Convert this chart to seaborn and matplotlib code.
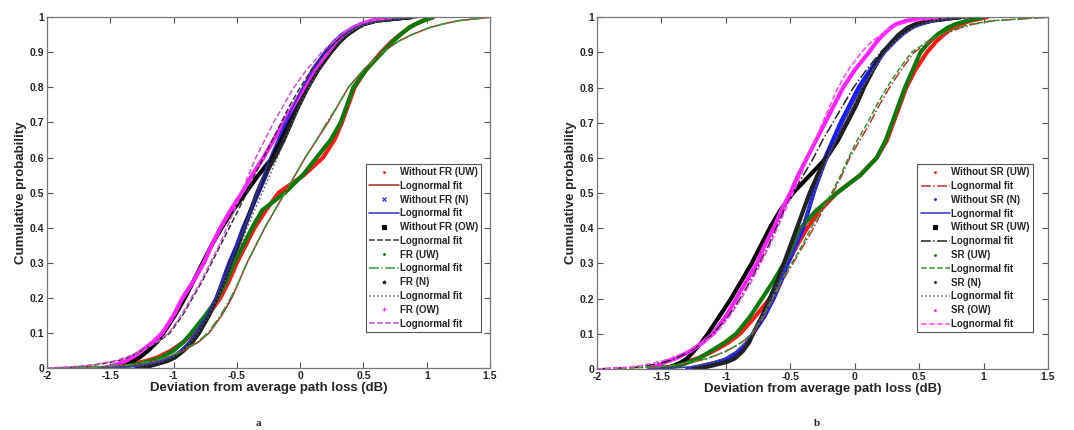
"""
Empirical CDFs of the deviation from average path loss, with lognormal fits.
Panel a: with / without FR; panel b: with / without SR.
"""

import matplotlib
matplotlib.use("Agg")
import matplotlib.pyplot as plt
import pandas as pd
import seaborn as sns
from matplotlib.lines import Line2D

# ─────────────────────────────────────────────────────────────────────────────
#  DATA  (x values at fixed cumulative-probability levels)
# ─────────────────────────────────────────────────────────────────────────────

PROB = [0, 0.005, 0.01, 0.02, 0.03, 0.05, 0.075, 0.1, 0.15, 0.2,
        0.25, 0.3, 0.35, 0.4, 0.45, 0.5, 0.55, 0.6, 0.65, 0.7,
        0.75, 0.8, 0.85, 0.9, 0.93, 0.95, 0.97, 0.98, 0.99, 1.0]

# panel a
A_WO_UW     = [-1.55, -1.42, -1.35, -1.22, -1.13, -1.02, -0.92, -0.84, -0.73, -0.63,
               -0.56, -0.50, -0.43, -0.36, -0.27, -0.17, 0.03, 0.18, 0.27, 0.33,
               0.38, 0.43, 0.52, 0.64, 0.72, 0.79, 0.86, 0.91, 0.97, 1.05]
A_WO_UW_FIT = [-1.90, -1.50, -1.30, -1.15, -1.05, -0.92, -0.80, -0.72, -0.62, -0.54,
               -0.48, -0.42, -0.35, -0.28, -0.20, -0.12, -0.04, 0.04, 0.13, 0.22,
               0.30, 0.38, 0.50, 0.65, 0.77, 0.88, 1.02, 1.12, 1.25, 1.50]
A_WO_N      = [-1.30, -1.20, -1.15, -1.07, -1.01, -0.93, -0.86, -0.80, -0.73, -0.66,
               -0.61, -0.56, -0.50, -0.45, -0.39, -0.33, -0.27, -0.22, -0.16, -0.10,
               -0.04, 0.03, 0.10, 0.20, 0.27, 0.33, 0.42, 0.48, 0.58, 0.88]
A_WO_N_FIT  = [-1.60, -1.30, -1.22, -1.10, -1.03, -0.95, -0.88, -0.83, -0.74, -0.67,
               -0.61, -0.55, -0.50, -0.44, -0.39, -0.34, -0.29, -0.24, -0.18, -0.12,
               -0.05, 0.02, 0.10, 0.20, 0.28, 0.34, 0.43, 0.50, 0.60, 0.90]
A_WO_OW     = [-1.45, -1.41, -1.38, -1.32, -1.27, -1.20, -1.13, -1.08, -0.99, -0.91,
               -0.84, -0.77, -0.70, -0.62, -0.53, -0.43, -0.33, -0.22, -0.15, -0.08,
               -0.01, 0.06, 0.14, 0.24, 0.31, 0.37, 0.45, 0.50, 0.60, 0.87]
A_WO_OW_FIT = [-1.95, -1.70, -1.60, -1.45, -1.36, -1.25, -1.12, -1.03, -0.93, -0.85,
               -0.77, -0.70, -0.63, -0.56, -0.49, -0.42, -0.36, -0.29, -0.22, -0.15,
               -0.08, 0.00, 0.09, 0.20, 0.28, 0.35, 0.45, 0.52, 0.63, 0.95]
A_FR_UW     = [-1.50, -1.38, -1.30, -1.18, -1.10, -1.00, -0.92, -0.86, -0.75, -0.65,
               -0.58, -0.52, -0.45, -0.38, -0.30, -0.12, 0.02, 0.13, 0.24, 0.32,
               0.37, 0.42, 0.52, 0.65, 0.73, 0.79, 0.86, 0.91, 0.97, 1.05]
A_FR_UW_FIT = [-1.90, -1.52, -1.32, -1.16, -1.06, -0.93, -0.81, -0.73, -0.63, -0.55,
               -0.48, -0.42, -0.35, -0.28, -0.20, -0.12, -0.04, 0.04, 0.13, 0.21,
               0.30, 0.38, 0.50, 0.65, 0.77, 0.88, 1.02, 1.12, 1.25, 1.50]
A_FR_N      = [-1.28, -1.20, -1.15, -1.05, -0.99, -0.92, -0.85, -0.80, -0.72, -0.66,
               -0.60, -0.55, -0.49, -0.44, -0.39, -0.34, -0.28, -0.20, -0.13, -0.07,
               -0.01, 0.06, 0.14, 0.24, 0.31, 0.37, 0.45, 0.50, 0.60, 0.85]
A_FR_N_FIT  = [-1.60, -1.30, -1.20, -1.08, -1.01, -0.93, -0.86, -0.81, -0.72, -0.65,
               -0.59, -0.53, -0.47, -0.42, -0.36, -0.30, -0.24, -0.18, -0.12, -0.06,
               0.00, 0.07, 0.14, 0.23, 0.31, 0.36, 0.45, 0.52, 0.62, 0.92]
A_FR_OW     = [-1.55, -1.50, -1.45, -1.38, -1.33, -1.25, -1.16, -1.09, -1.00, -0.93,
               -0.84, -0.76, -0.70, -0.63, -0.55, -0.46, -0.38, -0.29, -0.21, -0.13,
               -0.05, 0.03, 0.11, 0.22, 0.28, 0.34, 0.42, 0.48, 0.56, 0.70]
A_FR_OW_FIT = [-2.00, -1.75, -1.63, -1.47, -1.38, -1.24, -1.13, -1.04, -0.94, -0.86,
               -0.78, -0.71, -0.64, -0.58, -0.52, -0.46, -0.41, -0.35, -0.28, -0.21,
               -0.13, -0.05, 0.05, 0.17, 0.26, 0.32, 0.41, 0.47, 0.56, 0.80]

# panel b
B_WO_UW     = [-1.50, -1.43, -1.38, -1.31, -1.22, -1.10, -0.98, -0.89, -0.77, -0.66,
               -0.59, -0.52, -0.45, -0.37, -0.27, -0.14, 0.04, 0.17, 0.25, 0.30,
               0.35, 0.40, 0.47, 0.56, 0.63, 0.69, 0.76, 0.82, 0.90, 1.03]
B_WO_UW_FIT = [-2.00, -1.60, -1.40, -1.25, -1.14, -1.00, -0.88, -0.79, -0.70, -0.63,
               -0.56, -0.48, -0.40, -0.32, -0.25, -0.17, -0.10, -0.04, 0.04, 0.12,
               0.19, 0.27, 0.36, 0.46, 0.58, 0.69, 0.82, 0.92, 1.08, 1.50]
B_WO_N      = [-1.30, -1.20, -1.15, -1.05, -0.97, -0.89, -0.83, -0.79, -0.70, -0.63,
               -0.57, -0.52, -0.46, -0.40, -0.36, -0.32, -0.28, -0.23, -0.17, -0.11,
               -0.04, 0.03, 0.12, 0.22, 0.29, 0.35, 0.43, 0.50, 0.60, 0.80]
B_WO_N_FIT  = [-1.60, -1.30, -1.22, -1.10, -1.01, -0.92, -0.85, -0.80, -0.71, -0.64,
               -0.58, -0.52, -0.46, -0.41, -0.36, -0.31, -0.26, -0.21, -0.15, -0.09,
               -0.02, 0.05, 0.14, 0.24, 0.32, 0.38, 0.46, 0.53, 0.63, 0.90]
B_WO_OW     = [-1.50, -1.44, -1.40, -1.34, -1.30, -1.25, -1.19, -1.14, -1.05, -0.96,
               -0.88, -0.80, -0.73, -0.66, -0.58, -0.48, -0.35, -0.22, -0.13, -0.06,
               0.01, 0.07, 0.14, 0.22, 0.30, 0.35, 0.42, 0.48, 0.58, 0.82]
B_WO_OW_FIT = [-2.00, -1.70, -1.60, -1.47, -1.39, -1.28, -1.18, -1.10, -0.98, -0.89,
               -0.81, -0.74, -0.67, -0.61, -0.55, -0.48, -0.40, -0.32, -0.25, -0.17,
               -0.09, -0.01, 0.09, 0.20, 0.28, 0.35, 0.43, 0.50, 0.62, 0.95]
B_SR_UW     = [-1.50, -1.42, -1.36, -1.28, -1.21, -1.12, -1.01, -0.92, -0.81, -0.72,
               -0.63, -0.55, -0.48, -0.42, -0.30, -0.14, 0.04, 0.17, 0.24, 0.29,
               0.34, 0.39, 0.45, 0.51, 0.58, 0.64, 0.72, 0.78, 0.87, 1.00]
B_SR_UW_FIT = [-2.00, -1.58, -1.42, -1.28, -1.14, -1.00, -0.88, -0.80, -0.71, -0.64,
               -0.57, -0.49, -0.41, -0.34, -0.26, -0.18, -0.11, -0.05, 0.02, 0.10,
               0.17, 0.25, 0.34, 0.44, 0.56, 0.66, 0.80, 0.90, 1.06, 1.50]
B_SR_N      = [-1.25, -1.16, -1.10, -0.99, -0.93, -0.87, -0.82, -0.79, -0.72, -0.66,
               -0.60, -0.55, -0.50, -0.45, -0.40, -0.35, -0.29, -0.22, -0.14, -0.06,
               0.01, 0.07, 0.14, 0.22, 0.29, 0.34, 0.41, 0.47, 0.56, 0.77]
B_SR_N_FIT  = [-1.60, -1.30, -1.20, -1.08, -1.00, -0.92, -0.85, -0.80, -0.72, -0.65,
               -0.59, -0.53, -0.47, -0.42, -0.37, -0.32, -0.27, -0.21, -0.15, -0.08,
               -0.01, 0.06, 0.14, 0.24, 0.31, 0.37, 0.45, 0.52, 0.62, 0.90]
B_SR_OW     = [-1.60, -1.56, -1.52, -1.47, -1.39, -1.28, -1.18, -1.10, -1.00, -0.92,
               -0.84, -0.76, -0.70, -0.63, -0.57, -0.50, -0.44, -0.37, -0.30, -0.23,
               -0.16, -0.09, 0.00, 0.11, 0.17, 0.22, 0.28, 0.32, 0.40, 0.61]
B_SR_OW_FIT = [-2.00, -1.75, -1.65, -1.52, -1.43, -1.30, -1.18, -1.08, -0.97, -0.88,
               -0.80, -0.73, -0.66, -0.60, -0.54, -0.48, -0.42, -0.36, -0.31, -0.25,
               -0.19, -0.13, -0.05, 0.05, 0.13, 0.20, 0.28, 0.35, 0.46, 0.75]

X_TICKS  = [-2, -1.5, -1, -0.5, 0, 0.5, 1, 1.5]
X_LABELS = ["-2", "-1.5", "-1", "-0.5", "0", "0.5", "1", "1.5"]
Y_TICKS  = [0, 0.1, 0.2, 0.3, 0.4, 0.5, 0.6, 0.7, 0.8, 0.9, 1]
Y_LABELS = ["0", "0.1", "0.2", "0.3", "0.4", "0.5", "0.6", "0.7", "0.8", "0.9", "1"]

# (label, empirical, fit, colour, marker, fit colour, fit linestyle)
SERIES_A = [
    ("Without FR (UW)", A_WO_UW, A_WO_UW_FIT, "#ff1a1a", ".", "#a0302a", "-"),
    ("Without FR (N)",  A_WO_N,  A_WO_N_FIT,  "#1a1aff", "x", "#3030c0", "-"),
    ("Without FR (OW)", A_WO_OW, A_WO_OW_FIT, "#000000", "s", "#333333", "--"),
    ("FR (UW)",         A_FR_UW, A_FR_UW_FIT, "#0a7a0a", ".", "#3a9a3a", "-."),
    ("FR (N)",          A_FR_N,  A_FR_N_FIT,  "#222222", "*", "#555577", ":"),
    ("FR (OW)",         A_FR_OW, A_FR_OW_FIT, "#ff22ff", "+", "#d050d0", "--"),
]
SERIES_B = [
    ("Without SR (UW)", B_WO_UW, B_WO_UW_FIT, "#ff1a1a", ".", "#c03030", "-."),
    ("Without SR (N)",  B_WO_N,  B_WO_N_FIT,  "#1a1aff", ".", "#3030c0", "-"),
    ("Without SR (UW)", B_WO_OW, B_WO_OW_FIT, "#000000", "s", "#222222", "-."),
    ("SR (UW)",         B_SR_UW, B_SR_UW_FIT, "#0a7a0a", ".", "#2a9a2a", "--"),
    ("SR (N)",          B_SR_N,  B_SR_N_FIT,  "#222222", ".", "#555566", ":"),
    ("SR (OW)",         B_SR_OW, B_SR_OW_FIT, "#ff22ff", ".", "#ff44ff", "--"),
]

# ─────────────────────────────────────────────────────────────────────────────
#  STYLE
# ─────────────────────────────────────────────────────────────────────────────

sns.set_style("ticks")
plt.rcParams["font.family"] = ["Liberation Sans", "DejaVu Sans"]
plt.rcParams["font.weight"] = "bold"
plt.rcParams["axes.labelweight"] = "bold"


def draw_panel(ax, series, legend_pos):
    # empirical data first (thick), fits on top (thin)
    for label, emp, fit, color, marker, fcolor, fls in series:
        df = pd.DataFrame({"x": emp, "p": PROB})
        sns.lineplot(data=df, x="x", y="p", ax=ax, color=color, lw=3.0,
                     estimator=None, sort=False, legend=False,
                     solid_joinstyle="round", solid_capstyle="round")
    for label, emp, fit, color, marker, fcolor, fls in series:
        df = pd.DataFrame({"x": fit, "p": PROB})
        sns.lineplot(data=df, x="x", y="p", ax=ax, color=fcolor, lw=1.1,
                     linestyle=fls, estimator=None, sort=False, legend=False)

    ax.set_xlim(-2, 1.5)
    ax.set_ylim(0, 1)
    ax.set_xticks(X_TICKS)
    ax.set_xticklabels(X_LABELS)
    ax.set_yticks(Y_TICKS)
    ax.set_yticklabels(Y_LABELS)
    ax.tick_params(direction="in", top=True, right=True, length=4,
                   labelsize=7.5, pad=2, color="#555555")
    for lab in ax.get_xticklabels() + ax.get_yticklabels():
        lab.set_fontweight("bold")
    for s in ax.spines.values():
        s.set_visible(True)
        s.set_color("#777777")
        s.set_linewidth(0.9)
    ax.set_xlabel("Deviation from average path loss (dB)", fontsize=9.5, labelpad=1)
    ax.set_ylabel("Cumulative probability", fontsize=9.5, labelpad=2)

    handles, labels = [], []
    for label, emp, fit, color, marker, fcolor, fls in series:
        handles.append(Line2D([], [], color=color, marker=marker, ls="none",
                              markersize=2.5, markeredgewidth=0.8))
        labels.append(label)
        handles.append(Line2D([], [], color=fcolor, ls=fls, lw=1.1))
        labels.append("Lognormal fit")
    leg = ax.legend(handles, labels, loc="upper left", bbox_to_anchor=legend_pos,
                    fontsize=7, frameon=True, fancybox=False, framealpha=1,
                    edgecolor="#555555", borderpad=0.35, labelspacing=0.39,
                    handlelength=3.0, handletextpad=0.1, borderaxespad=0)
    leg.get_frame().set_linewidth(0.8)
    for t in leg.get_texts():
        t.set_fontweight("bold")


fig = plt.figure(figsize=(10.74, 4.30), dpi=100)
ax_a = fig.add_axes([0.0438, 0.144, 0.4125, 0.816])
ax_b = fig.add_axes([0.5559, 0.142, 0.4199, 0.818])

draw_panel(ax_a, SERIES_A, (0.72, 0.583))
draw_panel(ax_b, SERIES_B, (0.71, 0.583))

fig.text(0.2405, 0.01, "a", fontsize=8, fontweight="bold",
         family=["Liberation Serif", "DejaVu Serif"], ha="center")
fig.text(0.7605, 0.01, "b", fontsize=8, fontweight="bold",
         family=["Liberation Serif", "DejaVu Serif"], ha="center")

fig.savefig("out.png", dpi=100, facecolor="white")
plt.close(fig)
